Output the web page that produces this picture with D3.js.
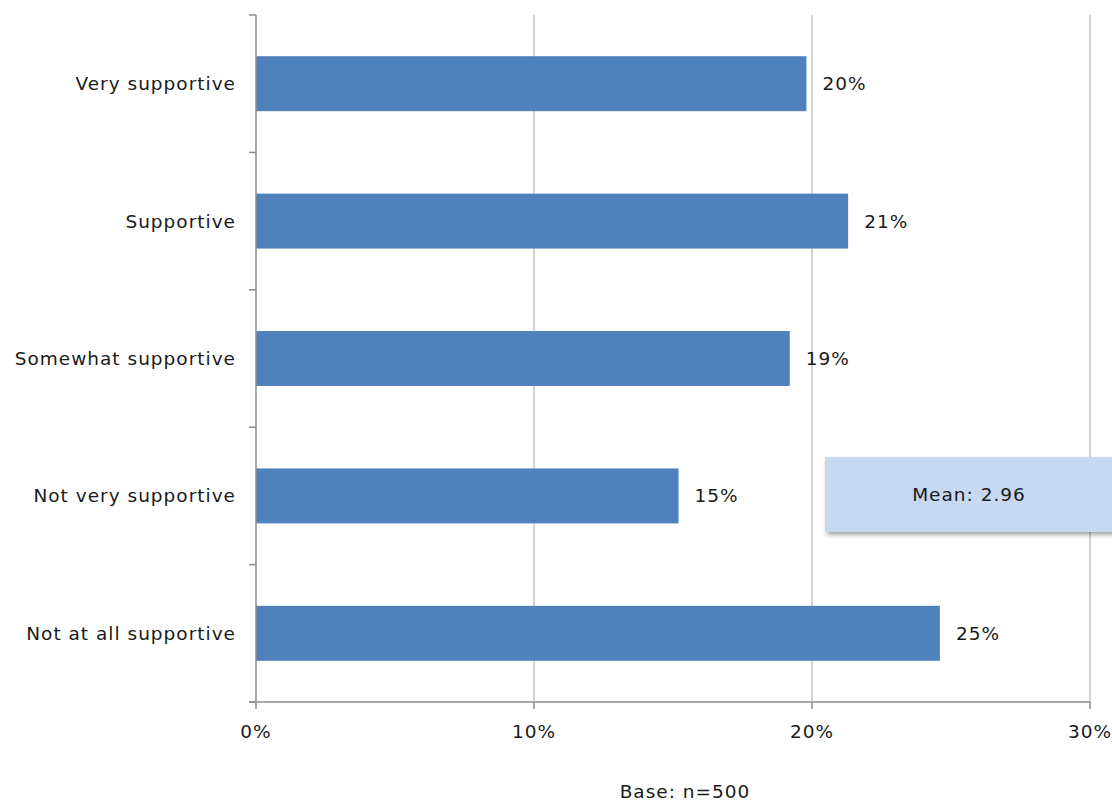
<!DOCTYPE html>
<html><head><meta charset="utf-8">
<script src="https://cdn.jsdelivr.net/npm/d3@7"></script>
<style>
body{margin:0;background:#fff;}
svg{display:block;}
text{font-family:"Century Gothic","DejaVu Sans",sans-serif;fill:#1a1a1a;letter-spacing:1px;}
</style></head>
<body><svg id="c" width="1112" height="805"></svg>
<script>
const categories = ["Very supportive","Supportive","Somewhat supportive","Not very supportive","Not at all supportive"];
const values = [0.198, 0.213, 0.192, 0.152, 0.246];
const valueLabels = ["20%","21%","19%","15%","25%"];
const xTicks = [0, 0.1, 0.2, 0.3];
const meanText = "Mean: 2.96";
const baseText = "Base: n=500";

const svg = d3.select("#c");
const x = d3.scaleLinear().domain([0, 0.3]).range([256, 1090]);
const y = d3.scaleBand().domain(categories).range([15, 702]).paddingInner(0.6).paddingOuter(0.3);
const yBand = d3.scaleBand().domain(categories).range([15, 702]);

const fs = 18.5;

// gridlines
svg.append("g").selectAll("line").data(xTicks.slice(1)).join("line")
  .attr("x1", d=>x(d)).attr("x2", d=>x(d)).attr("y1", 15).attr("y2", 702)
  .attr("stroke", "#c4c4c4").attr("stroke-width", 1.5);

// bars
svg.append("g").selectAll("rect").data(categories).join("rect")
  .attr("x", x(0)).attr("y", d=>y(d)).attr("height", y.bandwidth())
  .attr("width", (d,i)=>x(values[i]) - x(0)).attr("fill", "#4f81bd");

// y axis line and ticks
const axisColor = "#8c8c8c";
svg.append("line").attr("x1",256).attr("x2",256).attr("y1",15).attr("y2",702).attr("stroke",axisColor).attr("stroke-width",1.5);
const yTickPos = categories.map(c=>yBand(c)).concat([702]);
svg.append("g").selectAll("line").data(yTickPos).join("line")
  .attr("x1",249).attr("x2",256).attr("y1",d=>d).attr("y2",d=>d).attr("stroke",axisColor).attr("stroke-width",1.5);

// x axis line and ticks
svg.append("line").attr("x1",249).attr("x2",x(0.3)).attr("y1",702).attr("y2",702).attr("stroke",axisColor).attr("stroke-width",1.5);
svg.append("g").selectAll("line").data(xTicks).join("line")
  .attr("x1",d=>x(d)).attr("x2",d=>x(d)).attr("y1",702).attr("y2",709).attr("stroke",axisColor).attr("stroke-width",1.5);

// category labels
svg.append("g").selectAll("text").data(categories).join("text")
  .attr("x", 236).attr("y", d=>y(d)+y.bandwidth()/2).attr("dy","0.35em")
  .attr("text-anchor","end").attr("font-size",fs).text(d=>d);

// x tick labels
svg.append("g").selectAll("text").data(xTicks).join("text")
  .attr("x", d=>x(d)).attr("y", 732).attr("dy","0.35em")
  .attr("text-anchor","middle").attr("font-size",fs).text(d=>d3.format(".0%")(d));

// value labels
svg.append("g").selectAll("text").data(categories).join("text")
  .attr("x", (d,i)=>x(values[i]) + 16).attr("y", d=>y(d)+y.bandwidth()/2).attr("dy","0.35em")
  .attr("font-size",fs).text((d,i)=>valueLabels[i]);

// mean box with shadow
const defs = svg.append("defs");
const f = defs.append("filter").attr("id","sh").attr("x","-10%").attr("y","-20%").attr("width","130%").attr("height","160%");
f.append("feDropShadow").attr("dx",2).attr("dy",3).attr("stdDeviation",2).attr("flood-color","#000").attr("flood-opacity",0.35);
svg.append("rect").attr("x",825).attr("y",457).attr("width",300).attr("height",75)
  .attr("fill","#c6d9f1").attr("filter","url(#sh)");
svg.append("text").attr("x",969).attr("y",495).attr("dy","0.35em").attr("text-anchor","middle")
  .attr("font-size",fs).text(meanText);

// base
svg.append("text").attr("x",685).attr("y",792).attr("dy","0.35em").attr("text-anchor","middle")
  .attr("font-size",fs).text(baseText);
</script></body></html>
